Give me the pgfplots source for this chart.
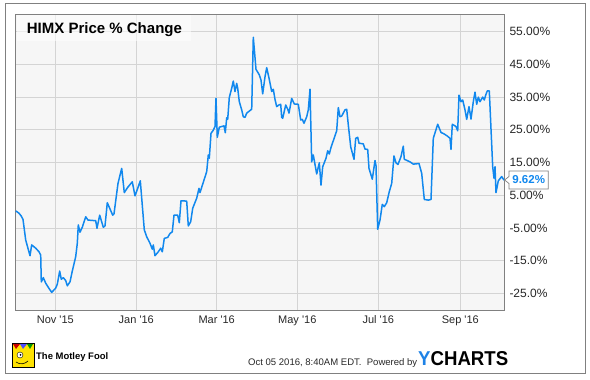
\documentclass[border=0pt]{standalone}
\usepackage{fontspec}
\setmainfont{Liberation Sans}
\usepackage{graphicx}
\usepackage{pgfplots}
\pgfplotsset{compat=1.18}
\definecolor{lineblue}{RGB}{17,136,238}
\definecolor{bgcol}{RGB}{246,246,246}
\definecolor{gridcol}{RGB}{212,212,212}
\definecolor{framecol}{RGB}{128,128,128}
\definecolor{labcol}{RGB}{40,40,40}
\definecolor{ychblue}{RGB}{30,130,230}
\begin{document}
\begin{tikzpicture}[x=1pt,y=1pt]
\path[use as bounding box, fill=white] (0,0) rectangle (590,380);
\draw[framecol, line width=1pt] (5.5,6.5) rectangle (585,376);
\begin{axis}[
  at={(15.5pt,70pt)}, anchor=south west, scale only axis,
  width=488.8pt, height=295.5pt,
  xmin=15.5, xmax=504.3, ymin=-30.1, ymax=60.26,
  axis background/.style={fill=bgcol},
  axis line style={draw=framecol, line width=0.8pt},
  grid=major, grid style={gridcol, line width=0.8pt},
  major tick length=0pt,
  xtick={55.3,136.3,216.7,297.3,378.3,460.3},
  xticklabels={Nov \textquotesingle15, Jan \textquotesingle16, Mar \textquotesingle16, May \textquotesingle16, Jul \textquotesingle16, Sep \textquotesingle16},
  xticklabel style={anchor=north, inner sep=0pt, yshift=-5.5pt, font=\fontsize{11}{11}\selectfont, text=labcol},
  ytick={-25,-15,-5,5,15,25,35,45,55},
  yticklabels={-25.0\%, -15.0\%, -5.00\%, 5.00\%, 15.00\%, 25.00\%, 35.00\%, 45.00\%, 55.00\%},
  yticklabel pos=right,
  yticklabel style={anchor=west, inner sep=0pt, xshift=5pt, font=\fontsize{12}{12}\selectfont, text=labcol},
  clip=true,
]
\addplot[lineblue, line width=1.5pt, line join=round, no markers] coordinates {
(15.7,0.2) (19,-0.5) (21.3,-1.4) (23,-2.4) (25.7,-8.7) (30,-13.5) (31.7,-10.2)
(35.7,-11.2) (39,-12.3) (40.7,-13.3) (41.3,-21.5) (43.3,-20.2) (45.7,-21.9)
(49,-23.5) (51.7,-24.7) (55.7,-23.4) (57.3,-22.2) (59.7,-18.2) (61.3,-20.7)
(63.3,-20.2) (65.7,-21.1) (67.3,-22.7) (70,-21.5) (72.3,-18.2) (75.7,-13.8)
(77.3,-9.7) (78.3,-4.1) (80,-6.3) (82.3,-4.8) (85.7,-1.6) (88,-2.6) (95.7,-2.8)
(97,-5.1) (99.7,-1.1) (103.3,-4.8) (105,-4.4) (107.3,2.7) (112.7,-1.1) (114,-0.7)
(118,8.6) (121.7,13.2) (124.3,5.8) (127.7,7.4) (132.3,9.1) (135,4.8) (137.7,7.1)
(140.3,9.4) (144.3,-5.6) (146.7,-7.7) (150,-9.7) (152.3,-11.5) (153.3,-10.2)
(155,-13.5) (158.3,-12.3) (160.7,-11.2) (162.3,-12.3) (164.3,-8.2) (167.7,-7.9)
(170,-6.7) (172.3,-6.2) (174,-1.1) (177.7,-1.1) (179.3,-3.4) (181,3.3) (186.7,3.2)
(188.3,-4.4) (190.7,-3.1) (192.7,1.0) (196.7,4.1) (199,7.1) (200,5.8) (206.7,12.2)
(208.3,17.3) (209.3,16.3) (211,23.9) (213.3,24.9) (215,26) (216,34.6) (217.3,22.7)
(219.3,25.8) (224,26.2) (225.3,24.1) (226.7,28.7) (227.7,28.2) (229.3,34.9)
(231.7,37.7) (233.3,39.9) (235,36.7) (236.7,39.2) (237.7,37.7) (239.3,33.6)
(241.7,31.1) (243.3,29) (245,28.8) (246.7,30.1) (251.7,31.3) (253.3,53.3) (256,43.5)
(259.3,41.8) (261,40.2) (262.7,36) (265,41.2) (266.7,44) (269.3,40.4) (271.7,36.7)
(273.3,37.4) (275,34.3) (276.7,32.1) (279,32.6) (280.7,32.8) (281.7,28.8)
(282.7,28.5) (285.7,32.6) (287.7,31.3) (289,30.1) (291.7,34.6) (294.3,32.9)
(298.3,32.8) (300.7,28) (302.3,28.2) (304,27) (306.7,29) (308.3,31.1) (310,37.4)
(311.7,15.2) (313.3,17.3) (316.7,11.5) (319.3,14.9) (321,8.1) (322.7,13.7)
(326,16.3) (327.7,18.6) (329.3,17.6) (331,19.6) (336.7,24.7) (338.3,31.8) (340,29)
(341.7,29.2) (345,31.1) (346.7,31.3) (348.3,26.5) (350.7,19.8) (354,16) (355.7,22.4)
(357.7,22.7) (359,20.9) (363.3,20.7) (365,19.1) (367.7,19) (369,13.2) (372.3,9.9)
(375,15.6) (376,14) (377.7,-5.4) (380,-2.6) (382.3,2.2) (384.3,1.5) (386.7,2.7)
(389.3,6.1) (391.7,8.6) (394,17) (396,14.9) (398,14.4) (400,16) (401,16.8)
(403.3,20) (404.3,16) (410,15.2) (413.3,14.5) (419,14.7) (421.7,11.7) (424.3,3.7)
(428.3,3.5) (431,3.7) (433.3,22.4) (437.7,26.7) (441,24.2) (444.3,23.7) (447.3,23.1)
(450,22.4) (451,19) (452.3,26.7) (456,26) (457.7,24.7) (459,35.6) (461,33.6)
(462.7,34.1) (465,31.1) (466.7,28.2) (469,32.1) (471,28.3) (473.3,33.6) (475,36.5)
(476.7,32.8) (478.3,35) (480,33.6) (482.7,35) (484.3,34.1) (485.7,35.6) (487.3,36.9)
(489.3,36.9) (492.7,13.7) (494,10.2) (495,13.7) (496,5.8) (498.3,9.4) (501.7,10.7)
(504,9.62)
};
\end{axis}
% title box
\fill[white, opacity=0.55] (16.5,339) rectangle (191,365);
\node[anchor=base west, inner sep=0pt, font=\fontsize{15}{15}\selectfont\bfseries, text=black] at (26.7,346.7) {HIMX Price \% Change};
% last value label
\filldraw[fill=white, draw=framecol, line width=0.7pt] (504.6,200) -- (509,203.5) -- (509,209) -- (548.3,209) -- (548.3,191) -- (509,191) -- (509,196.5) -- cycle;
\node[anchor=center, inner sep=0pt, font=\fontsize{11.5}{11.5}\selectfont\bfseries, text=lineblue] at (528.7,200) {9.62\%};
% footer: Motley Fool logo (simplified)
\filldraw[fill=yellow!85!orange, draw=black, line width=0.6pt] (12,13) rectangle (34,37);
\fill[red!80!black] (13,36) -- (20,36) -- (16,31) -- cycle;
\fill[blue!70] (20,36) -- (27,36) -- (23,31) -- cycle;
\fill[green!60!black] (27,36) -- (33,36) -- (30,31) -- cycle;
\filldraw[fill=white, draw=black, line width=0.4pt] (20,25) circle (3);
\fill[black] (20.5,25) circle (1);
\draw[black, line width=0.6pt] (16,18) .. controls (20,15) and (25,16) .. (28,19);
\node[anchor=base west, inner sep=0pt, text=black] at (36,20.5) {\resizebox{72pt}{!}{\fontsize{11}{11}\selectfont\bfseries The Motley Fool}};
\node[anchor=base west, inner sep=0pt, text=labcol] at (248,14.5) {\resizebox{169pt}{!}{\fontsize{11}{11}\selectfont Oct 05 2016, 8:40AM EDT.\ \ Powered by}};
\node[anchor=base west, inner sep=0pt] at (418,14.3) {\resizebox{90pt}{14pt}{\bfseries\textcolor{ychblue}{Y}CHARTS}};
\end{tikzpicture}
\end{document}
